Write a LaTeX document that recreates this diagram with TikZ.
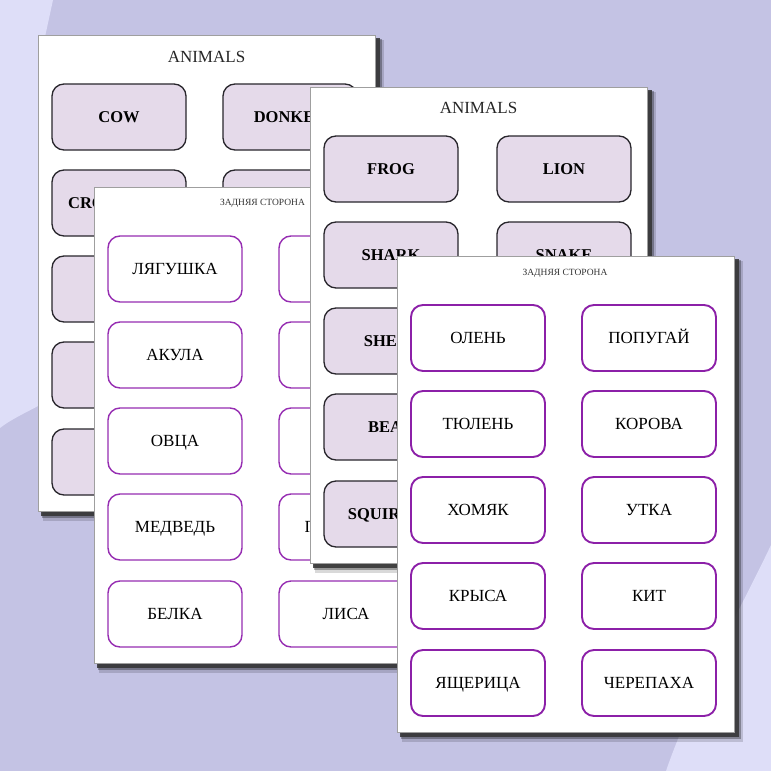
\documentclass[tikz,border=0pt]{standalone}
\usepackage{fontspec}
\setmainfont{Liberation Serif}
\definecolor{bgdark}{RGB}{196,195,228}
\definecolor{bglight}{RGB}{222,222,248}
\definecolor{cardfill}{RGB}{229,218,234}
\definecolor{cardpurple}{RGB}{150,45,178}
\definecolor{cardpurpleb}{RGB}{140,32,168}
\definecolor{carddark}{RGB}{40,38,44}
\tikzset{
  pagebox/.style={draw=gray!75, fill=white, line width=0.6pt, minimum width=337pt, minimum height=476pt, anchor=north west, inner sep=0pt, outer sep=0pt},
  fcard/.style={draw=carddark, fill=cardfill, line width=1.3pt, rounded corners=12pt, minimum width=134pt, minimum height=66pt, inner sep=0pt, text height=11pt, text depth=0pt, font=\bfseries\fontsize{16.5}{17}\selectfont},
  bcard/.style={draw=cardpurple, fill=white, line width=1.4pt, rounded corners=12pt, minimum width=134pt, minimum height=66pt, inner sep=0pt, text height=11.3pt, text depth=0pt, font=\fontsize{17}{17}\selectfont},
  bcardb/.style={bcard, draw=cardpurpleb, line width=1.9pt},
  titletext/.style={inner sep=0pt, font=\fontsize{17}{17}\selectfont, text=black!85},
  backtitle/.style={inner sep=0pt, font=\fontsize{9.5}{10}\selectfont, text=black!80},
  shadowsoft/.style={fill=black, opacity=0.15},
  shadowmid/.style={fill=black, opacity=0.3},
  shadowhard/.style={fill=black!80, opacity=0.85}
}
\newcommand\pageat[3]{%
  \fill[shadowsoft] (#2+5,#3+5) rectangle (#2+346,#3+486);
  \fill[shadowmid] (#2+4,#3+4) rectangle (#2+344,#3+483);
  \fill[shadowhard] (#2+3,#3+3) rectangle (#2+342,#3+481);
  \node[pagebox] (#1) at (#2,#3) {};
}
\begin{document}
\begin{tikzpicture}[x=1pt,y=-1pt]
\useasboundingbox (0,0) rectangle (771,771);
% background
\fill[bgdark] (0,0) rectangle (771,771);
\fill[bglight] (0,0) -- (53,0) -- (40,60) -- (40,405) .. controls (25,413) and (10,420) .. (0,428) -- cycle;
\fill[bglight] (771,545) .. controls (745,600) and (690,700) .. (666,771) -- (771,771) -- cycle;

% page 1 (front, back left)
\pageat{p1}{38}{35}
\node[titletext] (p1t) at (206.5,57) {ANIMALS};
\node[fcard] (p1a) at (119,117) {COW};
\node[fcard] (p1b) at (290,117) {DONKEY};
\node[fcard] (p1c) at (119,203) {CROCODILE};
\node[fcard] (p1d) at (290,203) {};
\node[fcard] (p1e) at (119,289) {};
\node[fcard] (p1g) at (119,375) {};
\node[fcard] (p1i) at (119,462) {};

% page 2 (back, front left)
\pageat{p2}{94}{187}
\node[backtitle] (p2t) at (262.5,203) {ЗАДНЯЯ СТОРОНА};
\node[bcard] (p2a) at (175,269) {ЛЯГУШКА};
\node[bcard] (p2b) at (346,269) {};
\node[bcard] (p2c) at (175,355) {АКУЛА};
\node[bcard] (p2d) at (346,355) {};
\node[bcard] (p2e) at (175,441) {ОВЦА};
\node[bcard] (p2f) at (346,441) {};
\node[bcard] (p2g) at (175,527) {МЕДВЕДЬ};
\node[bcard] (p2h) at (346,527) {ПИНГВИН};
\node[bcard] (p2i) at (175,614) {БЕЛКА};
\node[bcard] (p2j) at (346,614) {ЛИСА};

% page 3 (front, back right)
\pageat{p3}{310}{87}
\node[titletext] (p3t) at (478.5,108) {ANIMALS};
\node[fcard] (p3a) at (391,169) {FROG};
\node[fcard] (p3b) at (564,169) {LION};
\node[fcard] (p3c) at (391,255) {SHARK};
\node[fcard] (p3d) at (564,255) {SNAKE};
\node[fcard] (p3e) at (391,341) {SHEEP};
\node[fcard] (p3g) at (391,427) {BEAR};
\node[fcard] (p3i) at (391,514) {SQUIRREL};

% page 4 (back, front right)
\pageat{p4}{397}{256}
\node[backtitle] (p4t) at (565,273) {ЗАДНЯЯ СТОРОНА};
\node[bcardb] (p4a) at (478,338) {ОЛЕНЬ};
\node[bcardb] (p4b) at (649,338) {ПОПУГАЙ};
\node[bcardb] (p4c) at (478,424) {ТЮЛЕНЬ};
\node[bcardb] (p4d) at (649,424) {КОРОВА};
\node[bcardb] (p4e) at (478,510) {ХОМЯК};
\node[bcardb] (p4f) at (649,510) {УТКА};
\node[bcardb] (p4g) at (478,596) {КРЫСА};
\node[bcardb] (p4h) at (649,596) {КИТ};
\node[bcardb] (p4i) at (478,683) {ЯЩЕРИЦА};
\node[bcardb] (p4j) at (649,683) {ЧЕРЕПАХА};
\end{tikzpicture}
\end{document}
